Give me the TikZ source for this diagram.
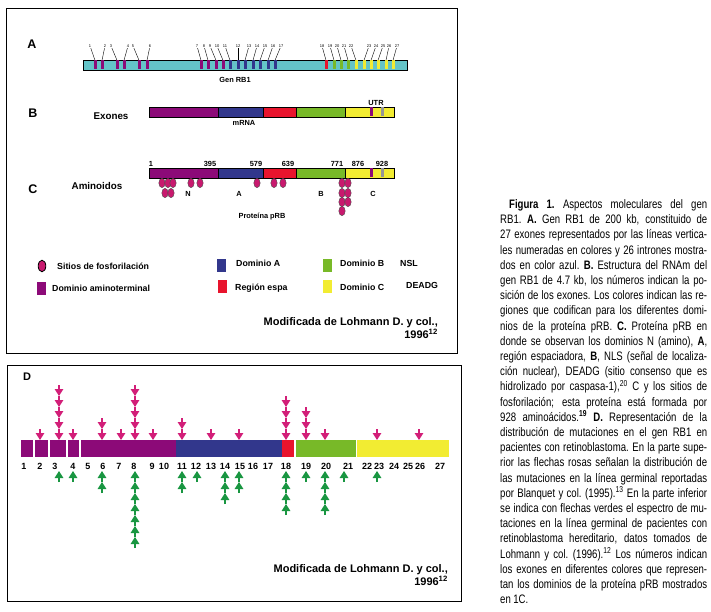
\documentclass[tikz,border=0pt]{standalone}
\usepackage{fontspec}
\setmainfont{Liberation Sans}
\newfontfamily\capfont[FakeStretch=0.78]{Liberation Sans}
\usetikzlibrary{arrows.meta}
\definecolor{cpurp}{RGB}{140,10,120}
\definecolor{cblue}{RGB}{50,55,140}
\definecolor{cred}{RGB}{232,20,45}
\definecolor{cgreen}{RGB}{120,185,40}
\definecolor{cyell}{RGB}{242,236,50}
\definecolor{cgene}{RGB}{100,196,200}
\definecolor{cpink}{RGB}{210,30,120}
\definecolor{cgarr}{RGB}{25,150,65}
\definecolor{cphos}{RGB}{200,25,110}
\definecolor{cgray}{RGB}{150,150,150}
\newcommand{\capline}[1]{\par\noindent\hbox to 207pt{#1}\par}
\newcommand{\capspaces}{\spaceskip=2.5pt plus 5pt minus 1pt\relax\xspaceskip=2.9pt plus 5pt minus 1pt\relax}

\begin{document}
\begin{tikzpicture}[x=1pt, y=-1pt,
		lbl/.style={font=\bfseries\fontsize{12.5}{14}\selectfont, inner sep=0},
		txt/.style={font=\bfseries\fontsize{8.8}{10}\selectfont, inner sep=0},
		small/.style={font=\bfseries\fontsize{7.4}{8}\selectfont, inner sep=0},
		exnum/.style={font=\fontsize{4}{5}\selectfont, inner sep=0.6pt},
		exon/.style={minimum width=3pt, minimum height=9pt, inner sep=0},
		dnum/.style={font=\bfseries\fontsize{9}{10}\selectfont, inner sep=0},
		pinkarr/.style={draw=cpink, line width=1.4pt, -{Triangle[width=8.5pt,length=7pt]}},
		greenarr/.style={draw=cgarr, line width=1.4pt, -{Triangle[width=8.5pt,length=7pt]}},
		phos/.style={fill=cphos, draw=black!70, line width=0.4pt},
		keybox/.style={minimum width=9pt, minimum height=13pt, inner sep=0},
		ref/.style={font=\bfseries\fontsize{11}{13}\selectfont, inner sep=0, align=right, anchor=north east}]
			\useasboundingbox (0,0) rectangle (711,612);
			
			% panels A, B, C
			\draw[line width=0.9pt] (6,8) rectangle (457,353);
			\node[lbl] (la) at (32,44) {A};
			\node[draw, line width=0.8pt, fill=cgene, minimum width=324pt, minimum height=10pt, inner sep=0] (gene) at (245,65) {};
			\node[exon, fill=cpurp] (x1) at (95,65) {};   \node[exnum] (n1) at (90,46) {1};   \draw (n1) -- (x1.north);
			\node[exon, fill=cpurp] (x2) at (102,65) {};  \node[exnum] (n2) at (105,46) {2};  \draw (n2) -- (x2.north);
			\node[exon, fill=cpurp] (x3) at (117,65) {};  \node[exnum] (n3) at (111,46) {3};  \draw (n3) -- (x3.north);
			\node[exon, fill=cpurp] (x4) at (124,65) {};  \node[exnum] (n4) at (128,46) {4};  \draw (n4) -- (x4.north);
			\node[exon, fill=cpurp] (x5) at (139,65) {};  \node[exnum] (n5) at (133,46) {5};  \draw (n5) -- (x5.north);
			\node[exon, fill=cpurp] (x6) at (147,65) {};  \node[exnum] (n6) at (150,46) {6};  \draw (n6) -- (x6.north);
			\node[exon, fill=cpurp] (x7) at (201,65) {};  \node[exnum] (n7) at (197,46) {7};  \draw (n7) -- (x7.north);
			\node[exon, fill=cpurp] (x8) at (208,65) {};  \node[exnum] (n8) at (204,46) {8};  \draw (n8) -- (x8.north);
			\node[exon, fill=cpurp] (x9) at (216,65) {};  \node[exnum] (n9) at (210,46) {9};  \draw (n9) -- (x9.north);
			\node[exon, fill=cpurp] (x10) at (223,65) {}; \node[exnum] (n10) at (217,46) {10}; \draw (n10) -- (x10.north);
			\node[exon, fill=cblue] (x11) at (230,65) {}; \node[exnum] (n11) at (225,46) {11}; \draw (n11) -- (x11.north);
			\node[exon, fill=cblue] (x12) at (238,65) {}; \node[exnum] (n12) at (238,46) {12}; \draw (n12) -- (x12.north);
			\node[exon, fill=cblue] (x13) at (245,65) {}; \node[exnum] (n13) at (249,46) {13}; \draw (n13) -- (x13.north);
			\node[exon, fill=cblue] (x14) at (253,65) {}; \node[exnum] (n14) at (257,46) {14}; \draw (n14) -- (x14.north);
			\node[exon, fill=cblue] (x15) at (260,65) {}; \node[exnum] (n15) at (265,46) {15}; \draw (n15) -- (x15.north);
			\node[exon, fill=cblue] (x16) at (268,65) {}; \node[exnum] (n16) at (273,46) {16}; \draw (n16) -- (x16.north);
			\node[exon, fill=cblue] (x17) at (275,65) {}; \node[exnum] (n17) at (281,46) {17}; \draw (n17) -- (x17.north);
			\node[exon, fill=cred] (x18) at (326,65) {};  \node[exnum] (n18) at (322,46) {18}; \draw (n18) -- (x18.north);
			\node[exon, fill=cgreen] (x19) at (334,65) {}; \node[exnum] (n19) at (330,46) {19}; \draw (n19) -- (x19.north);
			\node[exon, fill=cgreen] (x20) at (341,65) {}; \node[exnum] (n20) at (337,46) {20}; \draw (n20) -- (x20.north);
			\node[exon, fill=cgreen] (x21) at (348,65) {}; \node[exnum] (n21) at (344,46) {21}; \draw (n21) -- (x21.north);
			\node[exon, fill=cyell] (x22) at (356,65) {}; \node[exnum] (n22) at (351,46) {22}; \draw (n22) -- (x22.north);
			\node[exon, fill=cyell] (x23) at (364,65) {}; \node[exnum] (n23) at (369,46) {23}; \draw (n23) -- (x23.north);
			\node[exon, fill=cyell] (x24) at (371,65) {}; \node[exnum] (n24) at (376,46) {24}; \draw (n24) -- (x24.north);
			\node[exon, fill=cyell] (x25) at (378,65) {}; \node[exnum] (n25) at (383,46) {25}; \draw (n25) -- (x25.north);
			\node[exon, fill=cyell] (x26) at (386,65) {}; \node[exnum] (n26) at (389,46) {26}; \draw (n26) -- (x26.north);
			\node[exon, fill=cyell] (x27) at (393,65) {}; \node[exnum] (n27) at (397,46) {27}; \draw (n27) -- (x27.north);
			\node[small] (genrb) at (235,80) {Gen RB1};
			
			\node[lbl] (lb) at (33,113) {B};
			\node[txt, font=\bfseries\fontsize{9.8}{11}\selectfont] (exones) at (111,116) {Exones};
			\filldraw[fill=cpurp, draw=black] (149,107) rectangle (218,117);
			\filldraw[fill=cblue, draw=black] (218,107) rectangle (263,117);
			\filldraw[fill=cred, draw=black] (263,107) rectangle (296,117);
			\filldraw[fill=cgreen, draw=black] (296,107) rectangle (345,117);
			\filldraw[fill=cyell, draw=black] (345,107) rectangle (394,117);
			\fill[cpurp] (369.5,107.5) rectangle (372.5,116.5);
			\fill[cgray] (380.5,107.5) rectangle (383.5,116.5);
			\node[small] (utr) at (376,103) {UTR};
			\node[small] (mrna) at (244,123) {mRNA};
			
			\node[lbl] (lc) at (33,189) {C};
			\node[txt, font=\bfseries\fontsize{9.8}{11}\selectfont] (amino) at (97,186) {Aminoidos};
			\filldraw[fill=cpurp, draw=black] (149,168) rectangle (218,178);
			\filldraw[fill=cblue, draw=black] (218,168) rectangle (263,178);
			\filldraw[fill=cred, draw=black] (263,168) rectangle (296,178);
			\filldraw[fill=cgreen, draw=black] (296,168) rectangle (345,178);
			\filldraw[fill=cyell, draw=black] (345,168) rectangle (394,178);
			\fill[cpurp] (369.5,168.5) rectangle (372.5,177.5);
			\fill[cgray] (380.5,168.5) rectangle (383.5,177.5);
			\node[small] (p1) at (151,164) {1};
			\node[small] (p395) at (210,164) {395};
			\node[small] (p579) at (256,164) {579};
			\node[small] (p639) at (288,164) {639};
			\node[small] (p771) at (337,164) {771};
			\node[small] (p876) at (358,164) {876};
			\node[small] (p928) at (382,164) {928};
			\filldraw[phos] (162,183) ellipse (3.2pt and 4.7pt);
			\filldraw[phos] (168,183) ellipse (3.2pt and 4.7pt);
			\filldraw[phos] (173,183) ellipse (3.2pt and 4.7pt);
			\filldraw[phos] (165,193) ellipse (3.2pt and 4.7pt);
			\filldraw[phos] (171,193) ellipse (3.2pt and 4.7pt);
			\filldraw[phos] (191,183) ellipse (3.2pt and 4.7pt);
			\filldraw[phos] (200,183) ellipse (3.2pt and 4.7pt);
			\filldraw[phos] (257,183) ellipse (3.2pt and 4.7pt);
			\filldraw[phos] (274,183) ellipse (3.2pt and 4.7pt);
			\filldraw[phos] (283,183) ellipse (3.2pt and 4.7pt);
			\filldraw[phos] (342,183) ellipse (3.2pt and 4.7pt);
			\filldraw[phos] (342,193) ellipse (3.2pt and 4.7pt);
			\filldraw[phos] (342,202) ellipse (3.2pt and 4.7pt);
			\filldraw[phos] (342,211) ellipse (3.2pt and 4.7pt);
			\filldraw[phos] (348,183) ellipse (3.2pt and 4.7pt);
			\filldraw[phos] (348,193) ellipse (3.2pt and 4.7pt);
			\filldraw[phos] (348,202) ellipse (3.2pt and 4.7pt);
			\node[small] (dn) at (188,194) {N};
			\node[small] (da) at (239,194) {A};
			\node[small] (db) at (321,194) {B};
			\node[small] (dc) at (373,194) {C};
			\node[small] (prb) at (262,217) {Proteína pRB};
			
			% legend
			\filldraw[phos, line width=0.8pt, draw=black] (42,266) ellipse (3.8pt and 5.8pt);
			\node[txt, anchor=west] (ksit) at (57,266) {Sitios de fosforilación};
			\node[keybox, fill=cpurp] (kpurp) at (41.5,288) {};
			\node[txt, anchor=west] (kamin) at (52,288) {Dominio aminoterminal};
			\node[keybox, fill=cblue] (kblue) at (221,265.5) {};
			\node[txt, anchor=west] (kdoma) at (236,263) {Dominio A};
			\node[keybox, fill=cred] (kred) at (222,286) {};
			\node[txt, anchor=west] (kreg) at (235,288) {Región espa};
			\node[keybox, fill=cgreen] (kgreen) at (327,265.5) {};
			\node[txt, anchor=west] (kdomb) at (340,263) {Dominio B};
			\node[txt, anchor=west] (knsl) at (400,263) {NSL};
			\node[keybox, fill=cyell] (kyell) at (327,286) {};
			\node[txt, anchor=west] (kdomc) at (340,287) {Dominio C};
			\node[txt, anchor=west] (kdeadg) at (406,285) {DEADG};
			\node[ref] (refabc) at (438,317) {Modificada de Lohmann D. y col.,\\1996\textsuperscript{12}};
			
			% caption
			\node[anchor=north west, inner sep=0, text width=207pt, font=\capfont\fontsize{12.3}{15.2}\selectfont] (cap) at (500,193) {\capspaces
				\capline{\hspace*{9pt}\textbf{Figura 1.} Aspectos moleculares del gen}%
				\capline{RB1. \textbf{A.} Gen RB1 de 200 kb, constituido de}%
				\capline{27 exones representados por las líneas vertica-}%
				\capline{les numeradas en colores y 26 intrones mostra-}%
				\capline{dos en color azul. \textbf{B.} Estructura del RNAm del}%
				\capline{gen RB1 de 4.7 kb, los números indican la po-}%
				\capline{sición de los exones. Los colores indican las re-}%
				\capline{giones que codifican para los diferentes domi-}%
				\capline{nios de la proteína pRB. \textbf{C.} Proteína pRB en}%
				\capline{donde se observan los dominios N (amino), \textbf{A},}%
				\capline{región espaciadora, \textbf{B}, NLS (señal de localiza-}%
				\capline{ción nuclear), DEADG (sitio consenso que es}%
				\capline{hidrolizado por caspasa-1),\textsuperscript{20} C y los sitios de}%
				\capline{fosforilación; esta proteína está formada por}%
				\capline{928 aminoácidos.\textsuperscript{\textbf{19}} \textbf{D.} Representación de la}%
				\capline{distribución de mutaciones en el gen RB1 en}%
				\capline{pacientes con retinoblastoma. En la parte supe-}%
				\capline{rior las flechas rosas señalan la distribución de}%
				\capline{las mutaciones en la línea germinal reportadas}%
				\capline{por Blanquet y col. (1995).\textsuperscript{13} En la parte inferior}%
				\capline{se indica con flechas verdes el espectro de mu-}%
				\capline{taciones en la línea germinal de pacientes con}%
				\capline{retinoblastoma hereditario, datos tomados de}%
				\capline{Lohmann y col. (1996).\textsuperscript{12} Los números indican}%
				\capline{los exones en diferentes colores que represen-}%
				\capline{tan los dominios de la proteína pRB mostrados}%
				\capline{en 1C.\hfil}};
			
			% panel D
			\draw[line width=0.9pt] (7,365) rectangle (461,601);
			\node[lbl, font=\bfseries\fontsize{11}{12}\selectfont] (ld) at (27,377) {D};
			\fill[cpurp] (21,440) rectangle (33,457);
			\fill[cpurp] (35,440) rectangle (48,457);
			\fill[cpurp] (49.5,440) rectangle (66,457);
			\fill[cpurp] (68,440) rectangle (79,457);
			\fill[cpurp] (81,440) rectangle (176,457);
			\fill[cblue] (176,440) rectangle (282,457);
			\fill[cred] (282,440) rectangle (294,457);
			\fill[cgreen] (296,440) rectangle (356,457);
			\fill[cyell] (357,440) rectangle (449,457);
			\node[dnum] (d1) at (24,466) {1};    \node[dnum] (d2) at (40,466) {2};    \node[dnum] (d3) at (55,466) {3};
			\node[dnum] (d4) at (73,466) {4};    \node[dnum] (d5) at (88,466) {5};    \node[dnum] (d6) at (103,466) {6};
			\node[dnum] (d7) at (119,466) {7};   \node[dnum] (d8) at (134,466) {8};   \node[dnum] (d9) at (152,466) {9};
			\node[dnum] (d10) at (164,466) {10}; \node[dnum] (d11) at (182,466) {11}; \node[dnum] (d12) at (196,466) {12};
			\node[dnum] (d13) at (211,466) {13}; \node[dnum] (d14) at (225,466) {14}; \node[dnum] (d15) at (240,466) {15};
			\node[dnum] (d16) at (253,466) {16}; \node[dnum] (d17) at (268,466) {17}; \node[dnum] (d18) at (286,466) {18};
			\node[dnum] (d19) at (306,466) {19}; \node[dnum] (d20) at (326,466) {20}; \node[dnum] (d21) at (348,466) {21};
			\node[dnum] (d22) at (367,466) {22}; \node[dnum] (d23) at (379,466) {23}; \node[dnum] (d24) at (394,466) {24};
			\node[dnum] (d25) at (408,466) {25}; \node[dnum] (d26) at (420,466) {26}; \node[dnum] (d27) at (440,466) {27};
			
			% germinal mutations, Blanquet
			\draw[pinkarr] (40,429) -- (40,440);
			\draw[pinkarr] (59,385) -- (59,396); \draw[pinkarr] (59,396) -- (59,407); \draw[pinkarr] (59,407) -- (59,418); \draw[pinkarr] (59,418) -- (59,429); \draw[pinkarr] (59,429) -- (59,440);
			\draw[pinkarr] (73,429) -- (73,440);
			\draw[pinkarr] (102,418) -- (102,429); \draw[pinkarr] (102,429) -- (102,440);
			\draw[pinkarr] (121,429) -- (121,440);
			\draw[pinkarr] (135,385) -- (135,396); \draw[pinkarr] (135,396) -- (135,407); \draw[pinkarr] (135,407) -- (135,418); \draw[pinkarr] (135,418) -- (135,429); \draw[pinkarr] (135,429) -- (135,440);
			\draw[pinkarr] (153,429) -- (153,440);
			\draw[pinkarr] (182,418) -- (182,429); \draw[pinkarr] (182,429) -- (182,440);
			\draw[pinkarr] (211,429) -- (211,440);
			\draw[pinkarr] (239,429) -- (239,440);
			\draw[pinkarr] (286,396) -- (286,407); \draw[pinkarr] (286,407) -- (286,418); \draw[pinkarr] (286,418) -- (286,429); \draw[pinkarr] (286,429) -- (286,440);
			\draw[pinkarr] (306,407) -- (306,418); \draw[pinkarr] (306,418) -- (306,429); \draw[pinkarr] (306,429) -- (306,440);
			\draw[pinkarr] (325,429) -- (325,440);
			\draw[pinkarr] (377,429) -- (377,440);
			\draw[pinkarr] (419,429) -- (419,440);
			
			% germinal mutations, Lohmann
			\draw[greenarr] (59,482) -- (59,471);
			\draw[greenarr] (73,482) -- (73,471);
			\draw[greenarr] (102,482) -- (102,471); \draw[greenarr] (102,493) -- (102,482);
			\draw[greenarr] (135,482) -- (135,471); \draw[greenarr] (135,493) -- (135,482); \draw[greenarr] (135,504) -- (135,493); \draw[greenarr] (135,515) -- (135,504);
			\draw[greenarr] (135,526) -- (135,515); \draw[greenarr] (135,537) -- (135,526); \draw[greenarr] (135,548) -- (135,537);
			\draw[greenarr] (182,482) -- (182,471); \draw[greenarr] (182,493) -- (182,482);
			\draw[greenarr] (197,482) -- (197,471);
			\draw[greenarr] (225,482) -- (225,471); \draw[greenarr] (225,493) -- (225,482); \draw[greenarr] (225,504) -- (225,493);
			\draw[greenarr] (239,482) -- (239,471); \draw[greenarr] (239,493) -- (239,482);
			\draw[greenarr] (286,482) -- (286,471); \draw[greenarr] (286,493) -- (286,482); \draw[greenarr] (286,504) -- (286,493); \draw[greenarr] (286,515) -- (286,504);
			\draw[greenarr] (306,482) -- (306,471);
			\draw[greenarr] (325,482) -- (325,471); \draw[greenarr] (325,493) -- (325,482); \draw[greenarr] (325,504) -- (325,493); \draw[greenarr] (325,515) -- (325,504);
			\draw[greenarr] (344,482) -- (344,471);
			\draw[greenarr] (377,482) -- (377,471);
			
			\node[ref] (refd) at (448,564) {Modificada de Lohmann D. y col.,\\1996\textsuperscript{12}};
		
		\end{tikzpicture}
\end{document}
